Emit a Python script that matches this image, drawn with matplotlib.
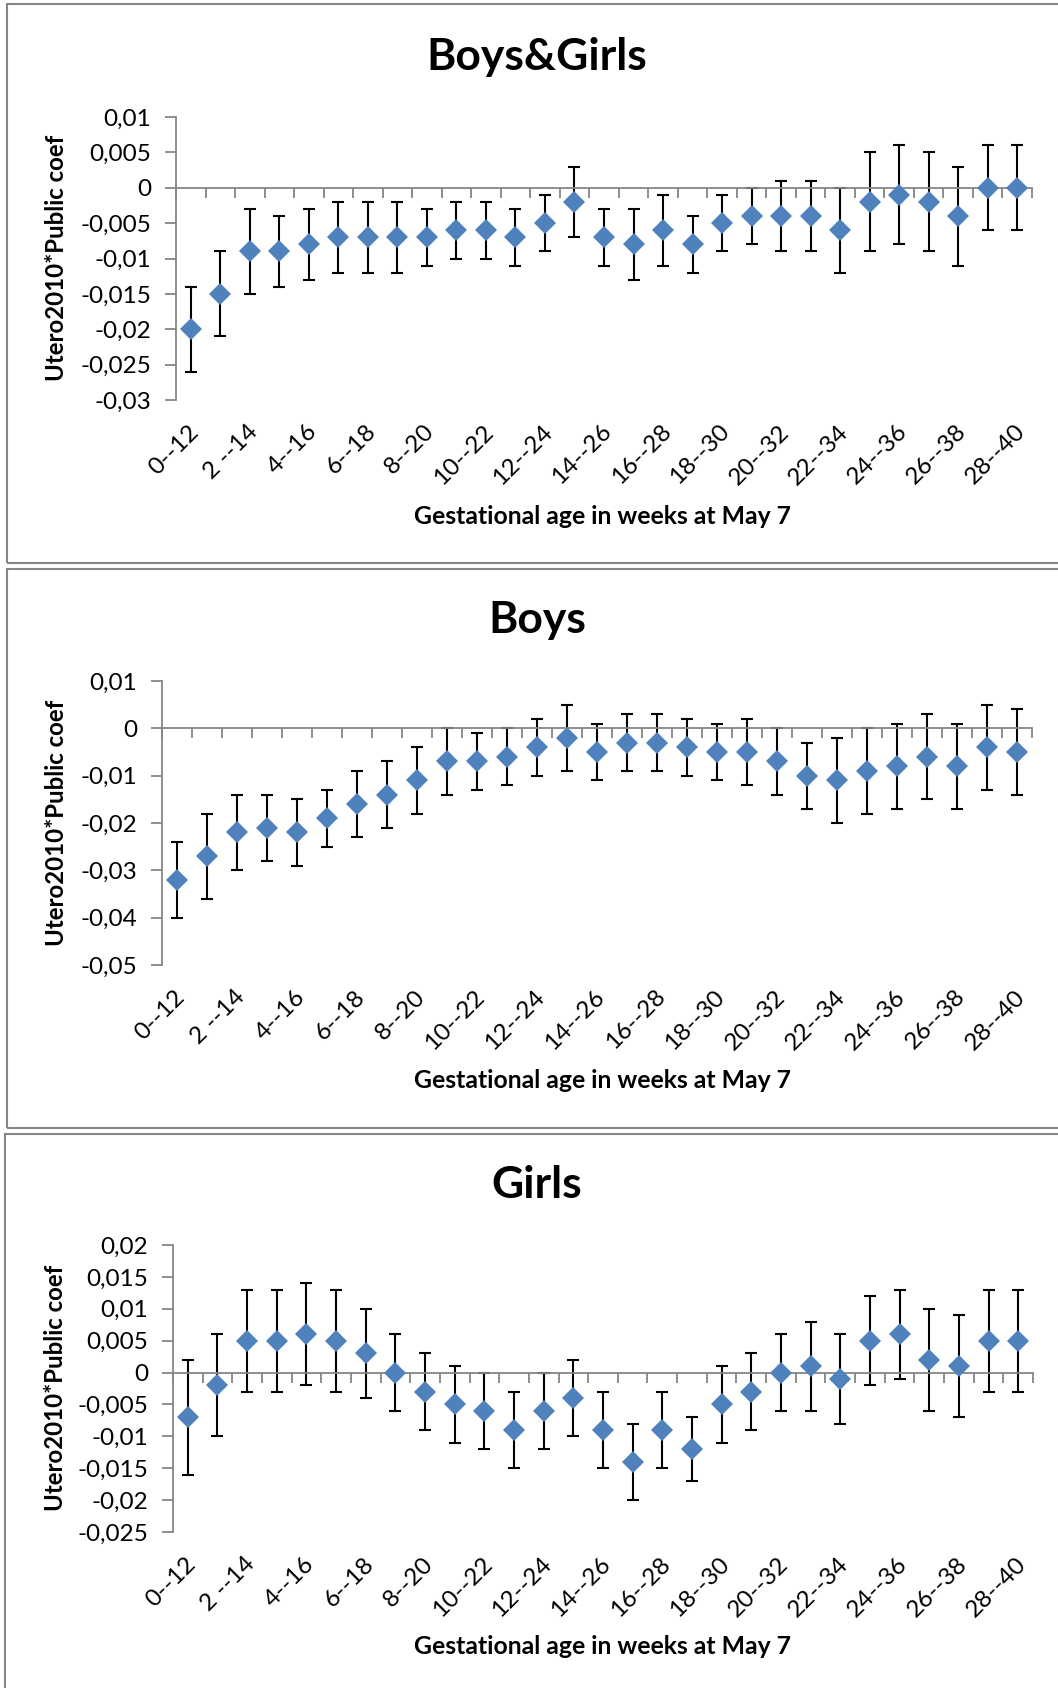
import numpy as np
import matplotlib
matplotlib.use('Agg')
import matplotlib.pyplot as plt
from matplotlib.patches import Rectangle
from matplotlib.ticker import MultipleLocator, FuncFormatter

plt.rcParams['font.family'] = ['Lato', 'DejaVu Sans']

# categories: gestational age window at May 7 (only every other one is labelled)
categories = ['0--12', '1--13', '2 --14', '3--15', '4--16', '5--17', '6--18', '7--19',
              '8--20', '9--21', '10--22', '11--23', '12--24', '13--25', '14--26', '15--27',
              '16--28', '17--29', '18--30', '19--31', '20--32', '21--33', '22--34', '23--35',
              '24--36', '25--37', '26--38', '27--39', '28--40']

# Boys & Girls: coefficient, lower and upper CI bounds
bg_coef = [-0.020, -0.015, -0.009, -0.009, -0.008, -0.007, -0.007, -0.007, -0.007, -0.006,
           -0.006, -0.007, -0.005, -0.002, -0.007, -0.008, -0.006, -0.008, -0.005, -0.004,
           -0.004, -0.004, -0.006, -0.002, -0.001, -0.002, -0.004, 0.000, 0.000]
bg_low = [-0.026, -0.021, -0.015, -0.014, -0.013, -0.012, -0.012, -0.012, -0.011, -0.010,
          -0.010, -0.011, -0.009, -0.007, -0.011, -0.013, -0.011, -0.012, -0.009, -0.008,
          -0.009, -0.009, -0.012, -0.009, -0.008, -0.009, -0.011, -0.006, -0.006]
bg_high = [-0.014, -0.009, -0.003, -0.004, -0.003, -0.002, -0.002, -0.002, -0.003, -0.002,
           -0.002, -0.003, -0.001, 0.003, -0.003, -0.003, -0.001, -0.004, -0.001, 0.000,
           0.001, 0.001, 0.000, 0.005, 0.006, 0.005, 0.003, 0.006, 0.006]

# Boys
b_coef = [-0.032, -0.027, -0.022, -0.021, -0.022, -0.019, -0.016, -0.014, -0.011, -0.007,
          -0.007, -0.006, -0.004, -0.002, -0.005, -0.003, -0.003, -0.004, -0.005, -0.005,
          -0.007, -0.010, -0.011, -0.009, -0.008, -0.006, -0.008, -0.004, -0.005]
b_low = [-0.040, -0.036, -0.030, -0.028, -0.029, -0.025, -0.023, -0.021, -0.018, -0.014,
         -0.013, -0.012, -0.010, -0.009, -0.011, -0.009, -0.009, -0.010, -0.011, -0.012,
         -0.014, -0.017, -0.020, -0.018, -0.017, -0.015, -0.017, -0.013, -0.014]
b_high = [-0.024, -0.018, -0.014, -0.014, -0.015, -0.013, -0.009, -0.007, -0.004, 0.000,
          -0.001, 0.000, 0.002, 0.005, 0.001, 0.003, 0.003, 0.002, 0.001, 0.002,
          0.000, -0.003, -0.002, 0.000, 0.001, 0.003, 0.001, 0.005, 0.004]

# Girls
g_coef = [-0.007, -0.002, 0.005, 0.005, 0.006, 0.005, 0.003, 0.000, -0.003, -0.005,
          -0.006, -0.009, -0.006, -0.004, -0.009, -0.014, -0.009, -0.012, -0.005, -0.003,
          0.000, 0.001, -0.001, 0.005, 0.006, 0.002, 0.001, 0.005, 0.005]
g_low = [-0.016, -0.010, -0.003, -0.003, -0.002, -0.003, -0.004, -0.006, -0.009, -0.011,
         -0.012, -0.015, -0.012, -0.010, -0.015, -0.020, -0.015, -0.017, -0.011, -0.009,
         -0.006, -0.006, -0.008, -0.002, -0.001, -0.006, -0.007, -0.003, -0.003]
g_high = [0.002, 0.006, 0.013, 0.013, 0.014, 0.013, 0.010, 0.006, 0.003, 0.001,
          0.000, -0.003, 0.000, 0.002, -0.003, -0.008, -0.003, -0.007, 0.001, 0.003,
          0.006, 0.008, 0.006, 0.012, 0.013, 0.010, 0.009, 0.013, 0.013]

W, H = 1058, 1688
fig = plt.figure(figsize=(W / 100, H / 100), dpi=100)

GRAY = '#868686'
BLUE = '#4F81BD'

# panel settings in pixel coords: border box, axes box, title y, xlabel y, ylabel x/y
panels = [
    dict(title='Boys&Girls', coef=bg_coef, low=bg_low, high=bg_high, ylim=(-0.03, 0.01),
         box=(7, 4, 563), ax=(176, 117, 1032, 400), title_y=57, xlab_y=516, ylab=(57, 258)),
    dict(title='Boys', coef=b_coef, low=b_low, high=b_high, ylim=(-0.05, 0.01),
         box=(7, 569, 1128), ax=(162, 681, 1032, 965), title_y=620, xlab_y=1081, ylab=(57, 823)),
    dict(title='Girls', coef=g_coef, low=g_low, high=g_high, ylim=(-0.025, 0.02),
         box=(5, 1134, 1720), ax=(173, 1245, 1033, 1532), title_y=1185, xlab_y=1647, ylab=(56, 1388)),
]


def comma_fmt(v, pos):
    if abs(v) < 1e-12:
        return '0'
    return f'{v:g}'.replace('.', ',')


x = np.arange(len(categories))

for p in panels:
    # panel border
    bx, by0, by1 = p['box']
    fig.patches.append(Rectangle((bx / W, 1 - by1 / H), (W + 20 - bx) / W, (by1 - by0) / H,
                                 transform=fig.transFigure, fill=False, edgecolor=GRAY,
                                 linewidth=1.5, clip_on=False))

    l, t, r, b = p['ax']
    ax = fig.add_axes([l / W, 1 - b / H, (r - l) / W, (b - t) / H])

    coef = np.array(p['coef'])
    yerr = [coef - np.array(p['low']), np.array(p['high']) - coef]
    ax.errorbar(x, coef, yerr=yerr, fmt='none', ecolor='black', elinewidth=1.5,
                capsize=4.5, capthick=1.5, zorder=2)
    ax.plot(x, coef, linestyle='none', marker='D', markersize=11, color=BLUE,
            markeredgewidth=0, zorder=3)

    ax.set_xlim(-0.5, len(categories) - 0.5)
    ax.set_ylim(*p['ylim'])

    for s in ['top', 'right']:
        ax.spines[s].set_visible(False)
    ax.spines['left'].set_color(GRAY)
    ax.spines['left'].set_linewidth(1.3)
    ax.spines['bottom'].set_position(('data', 0))
    ax.spines['bottom'].set_color(GRAY)
    ax.spines['bottom'].set_linewidth(1.3)

    ax.yaxis.set_major_locator(MultipleLocator(0.005 if p['title'] != 'Boys' else 0.01))
    ax.yaxis.set_major_formatter(FuncFormatter(comma_fmt))
    ax.tick_params(axis='y', direction='out', length=8, width=1.3, color=GRAY,
                   labelsize=17.5, labelcolor='black', pad=10)

    ax.set_xticks(np.arange(-0.5, len(categories), 1.0))
    ax.set_xticklabels([])
    ax.tick_params(axis='x', direction='out', length=7, width=1.3, color=GRAY)

    # category labels, every other one, below the plot area
    for i in range(0, len(categories), 2):
        ax.text(i + 0.15, -0.1, categories[i], transform=ax.get_xaxis_transform(),
                rotation=45, rotation_mode='anchor', ha='right', va='center',
                fontsize=17.5, color='black')

    fig.text(537 / W, 1 - p['title_y'] / H, p['title'], ha='center', va='center',
             fontsize=32, fontweight='bold')
    fig.text(603 / W, 1 - p['xlab_y'] / H, 'Gestational age in weeks at May 7',
             ha='center', va='center', fontsize=17.8, fontweight='bold')
    fig.text(p['ylab'][0] / W, 1 - p['ylab'][1] / H, 'Utero2010*Public coef',
             ha='center', va='center', rotation=90, fontsize=17.3, fontweight='bold')

fig.savefig('out.png', dpi=100)
